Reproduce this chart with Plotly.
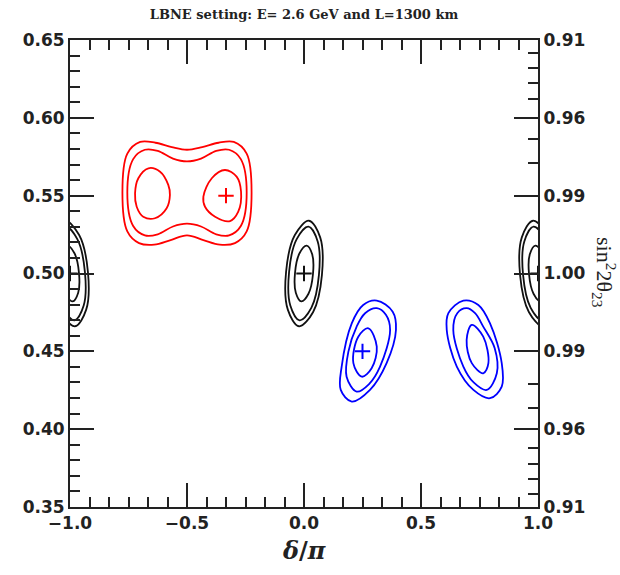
import plotly.graph_objects as go

# ---------------- data ----------------
x_tick_vals = [-1.0, -0.5, 0.0, 0.5, 1.0]
x_tick_text = ["\u22121.0", "\u22120.5", "0.0", "0.5", "1.0"]
y_tick_vals = [0.35, 0.40, 0.45, 0.50, 0.55, 0.60, 0.65]
y_tick_text = ["0.35", "0.40", "0.45", "0.50", "0.55", "0.60", "0.65"]
# right axis: sin^2(2 theta23) labels at the same positions
y2_tick_text = ["0.91", "0.96", "0.99", "1.00", "0.99", "0.96", "0.91"]
y2_minor_values = [0.92, 0.93, 0.94, 0.95, 0.97, 0.98]

# red contours (best fit at delta/pi = -1/3, s23^2 = 0.55)
red_outer_x = [-0.776, -0.755, -0.700, -0.635, -0.565, -0.500, -0.435, -0.365, -0.300, -0.245,
               -0.224, -0.245, -0.295, -0.360, -0.430, -0.500, -0.570, -0.640, -0.705, -0.755]
red_outer_y = [0.552, 0.577, 0.5845, 0.5840, 0.5812, 0.5795, 0.5812, 0.5840, 0.5845, 0.577,
               0.552, 0.527, 0.5195, 0.5185, 0.5215, 0.5245, 0.5215, 0.5185, 0.5195, 0.527]
red_mid_x = [-0.755, -0.730, -0.680, -0.625, -0.560, -0.500, -0.440, -0.375, -0.320, -0.270,
             -0.245, -0.270, -0.320, -0.375, -0.440, -0.500, -0.560, -0.625, -0.680, -0.730]
red_mid_y = [0.552, 0.5735, 0.5795, 0.5788, 0.5738, 0.5720, 0.5738, 0.5788, 0.5795, 0.5735,
             0.552, 0.5305, 0.5245, 0.5252, 0.5302, 0.5320, 0.5302, 0.5252, 0.5245, 0.5305]
red_inl_x = [-0.722, -0.708, -0.665, -0.615, -0.580, -0.573, -0.587, -0.637, -0.687, -0.715]
red_inl_y = [0.5515, 0.5612, 0.5676, 0.5654, 0.5569, 0.5504, 0.5419, 0.5355, 0.5365, 0.5429]
red_inr_x = [-0.430, -0.394, -0.338, -0.288, -0.269, -0.281, -0.316, -0.380, -0.423]
red_inr_y = [0.5494, 0.5612, 0.5665, 0.5622, 0.5526, 0.5397, 0.5337, 0.5365, 0.5429]

# black contours around (0, 0.50)
blk_outer_x = [0.0213, 0.0692, 0.0766, 0.0391, -0.0213, -0.0692, -0.0766, -0.0391]
blk_outer_y = [0.5339, 0.5232, 0.4989, 0.4753, 0.4661, 0.4768, 0.5011, 0.5247]
blk_mid_x = [0.0189, 0.0585, 0.0638, 0.0318, -0.0189, -0.0585, -0.0638, -0.0318]
blk_mid_y = [0.5301, 0.5206, 0.4991, 0.4781, 0.4699, 0.4794, 0.5009, 0.5219]
blk_in_x = [0.0112, 0.0350, 0.0383, 0.0191, -0.0112, -0.0350, -0.0383, -0.0191]
blk_in_y = [0.5179, 0.5123, 0.4995, 0.4870, 0.4821, 0.4877, 0.5005, 0.5130]

# black contours around delta/pi = -1 (same as +1, periodic)
edge_outer_x = [-1.0213, -1.0692, -1.0766, -1.0391, -0.9787, -0.9308, -0.9234, -0.9609]
edge_outer_y = [0.5339, 0.5232, 0.4989, 0.4753, 0.4661, 0.4768, 0.5011, 0.5247]
edge_mid_x = [-1.0189, -1.0585, -1.0638, -1.0318, -0.9811, -0.9415, -0.9362, -0.9682]
edge_mid_y = [0.5301, 0.5206, 0.4991, 0.4781, 0.4699, 0.4794, 0.5009, 0.5219]
edge_in_x = [-1.0112, -1.0350, -1.0383, -1.0191, -0.9888, -0.9650, -0.9617, -0.9809]
edge_in_y = [0.5179, 0.5123, 0.4995, 0.4870, 0.4821, 0.4877, 0.5005, 0.5130]

# blue contours (best fit at 0.25, 0.45) and its partner near 0.73
blue1_outer_x = [0.311, 0.379, 0.393, 0.353, 0.282, 0.204, 0.157, 0.161, 0.204, 0.253]
blue1_outer_y = [0.4826, 0.4755, 0.4637, 0.4424, 0.4252, 0.4177, 0.4252, 0.4402, 0.4680, 0.4798]
blue1_mid_x = [0.311, 0.350, 0.368, 0.325, 0.278, 0.225, 0.182, 0.190, 0.225, 0.261]
blue1_mid_y = [0.4777, 0.4735, 0.4637, 0.4402, 0.4290, 0.4241, 0.4337, 0.4500, 0.4659, 0.4745]
blue1_in_x = [0.275, 0.311, 0.289, 0.247, 0.211, 0.232]
blue1_in_y = [0.4648, 0.4530, 0.4391, 0.4337, 0.4424, 0.4594]

blue2_outer_x = [0.681, 0.617, 0.610, 0.653, 0.724, 0.795, 0.845, 0.845, 0.795, 0.745]
blue2_outer_y = [0.4826, 0.4745, 0.4637, 0.4402, 0.4252, 0.4199, 0.4273, 0.4424, 0.4680, 0.4798]
blue2_mid_x = [0.695, 0.655, 0.638, 0.681, 0.725, 0.781, 0.824, 0.815, 0.766, 0.731]
blue2_mid_y = [0.4777, 0.4745, 0.4637, 0.4402, 0.4300, 0.4252, 0.4359, 0.4520, 0.4659, 0.4745]
blue2_in_x = [0.717, 0.695, 0.717, 0.766, 0.788, 0.766]
blue2_in_y = [0.4670, 0.4573, 0.4424, 0.4359, 0.4424, 0.4594]

# best-fit / true-value points
pts_black_x = [-1.0, 0.0, 1.0]
pts_black_y = [0.50, 0.50, 0.50]
pts_red_x = [-1.0 / 3.0]
pts_red_y = [0.55]
pts_blue_x = [0.25]
pts_blue_y = [0.45]

# ---------------- figure ----------------
RED = "#ff0000"
BLUE = "#0000ff"
BLACK = "#111111"
AX = "#222222"

fig = go.Figure()


def ring(xs, ys, color, shift=0.0):
    fig.add_trace(go.Scatter(
        x=[v + shift for v in xs] + [xs[0] + shift],
        y=list(ys) + [ys[0]],
        mode="lines",
        line=dict(color=color, width=1.8, shape="spline", smoothing=1.0),
        hoverinfo="skip", showlegend=False))


for xs, ys in [(red_outer_x, red_outer_y), (red_mid_x, red_mid_y),
               (red_inl_x, red_inl_y), (red_inr_x, red_inr_y)]:
    ring(xs, ys, RED)
for xs, ys in [(blk_outer_x, blk_outer_y), (blk_mid_x, blk_mid_y), (blk_in_x, blk_in_y)]:
    ring(xs, ys, BLACK)
for xs, ys in [(edge_outer_x, edge_outer_y), (edge_mid_x, edge_mid_y), (edge_in_x, edge_in_y)]:
    ring(xs, ys, BLACK)
    ring(xs, ys, BLACK, shift=2.0)
for xs, ys in [(blue1_outer_x, blue1_outer_y), (blue1_mid_x, blue1_mid_y), (blue1_in_x, blue1_in_y),
               (blue2_outer_x, blue2_outer_y), (blue2_mid_x, blue2_mid_y), (blue2_in_x, blue2_in_y)]:
    ring(xs, ys, BLUE)

for px, py, col in [(pts_black_x, pts_black_y, BLACK), (pts_red_x, pts_red_y, RED),
                    (pts_blue_x, pts_blue_y, BLUE)]:
    fig.add_trace(go.Scatter(
        x=px, y=py, mode="markers",
        marker=dict(symbol="cross-thin", size=11, line=dict(color=col, width=2)),
        hoverinfo="skip", showlegend=False))

# empty trace so the right-hand axis exists
fig.add_trace(go.Scatter(x=[None], y=[None], yaxis="y2", showlegend=False, hoverinfo="skip"))

tickfont = dict(family="DejaVu Sans", size=17, color=AX, weight="bold")
x_minor = [-1.0 + k / 12.0 for k in range(25) if k % 6 != 0]
y_minor = [round(0.35 + k * 0.01, 2) for k in range(31) if k % 5 != 0]
# positions of sin^2(2theta) minor ticks on the s23^2 scale (both octants)
y2_minor = []
for v in y2_minor_values:
    d = (1.0 - v) ** 0.5 / 2.0
    y2_minor += [0.5 - d, 0.5 + d]

fig.update_layout(
    width=620, height=575,
    margin=dict(l=70, r=82, t=40, b=68),
    paper_bgcolor="white", plot_bgcolor="white",
    showlegend=False,
    title=dict(text="LBNE setting: E= 2.6 GeV and L=1300 km",
               x=304 / 620, xanchor="center", y=1 - 14 / 575, yanchor="middle",
               font=dict(family="DejaVu Serif", size=13, color=AX, weight="bold")),
    xaxis=dict(range=[-1, 1], tickmode="array", tickvals=x_tick_vals, ticktext=x_tick_text,
               ticks="inside", ticklen=24, tickwidth=1.5, tickcolor=AX,
               showline=True, linecolor=AX, linewidth=2, mirror="ticks",
               showgrid=False, zeroline=False, tickfont=tickfont,
               minor=dict(tickmode="array", tickvals=x_minor, ticks="inside",
                          ticklen=10, tickwidth=1.5, tickcolor=AX)),
    yaxis=dict(range=[0.35, 0.65], tickmode="array", tickvals=y_tick_vals, ticktext=y_tick_text,
               ticks="inside", ticklen=24, tickwidth=1.5, tickcolor=AX,
               showline=True, linecolor=AX, linewidth=2, mirror=False,
               showgrid=False, zeroline=False, tickfont=tickfont,
               minor=dict(tickmode="array", tickvals=y_minor, ticks="inside",
                          ticklen=10, tickwidth=1.5, tickcolor=AX)),
    yaxis2=dict(range=[0.35, 0.65], overlaying="y", side="right", anchor="x",
                tickmode="array", tickvals=y_tick_vals, ticktext=y2_tick_text,
                ticks="inside", ticklen=24, tickwidth=1.5, tickcolor=AX,
                showline=True, linecolor=AX, linewidth=2,
                showgrid=False, zeroline=False, tickfont=tickfont,
                minor=dict(tickmode="array", tickvals=y2_minor, ticks="inside",
                           ticklen=10, tickwidth=1.5, tickcolor=AX)),
)

fig.add_annotation(text="<i>\u03b4</i>/<i>\u03c0</i>", xref="paper", yref="paper",
                   x=0.5, y=-(550 - 507) / 467, xanchor="center", yanchor="middle",
                   showarrow=False,
                   font=dict(family="DejaVu Serif", size=24, color=AX, weight="bold"))
fig.add_annotation(text="sin<sup>2</sup>2\u03b8<sub>23</sub>", xref="paper", yref="paper",
                   x=(605 - 70) / 468, y=(507 - 272) / 467, xanchor="center", yanchor="middle",
                   textangle=90, showarrow=False,
                   font=dict(family="Liberation Serif", size=22, color=AX))

fig.write_html("out.html")
